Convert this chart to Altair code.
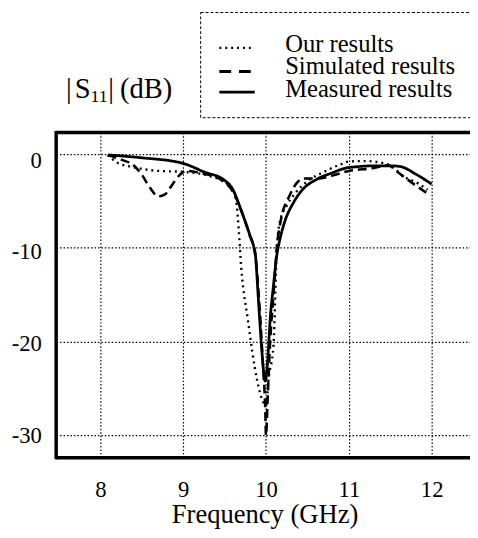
import altair as alt
import pandas as pd

# ---- data ----
freq_ticks = [8, 9, 10, 11, 12]
db_ticks = [0, -10, -20, -30]
series_names = ["Our results", "Simulated results", "Measured results"]

our_f = [8.09, 8.2, 8.4, 8.7, 9.0, 9.3, 9.5, 9.6, 9.64, 9.67, 9.7, 9.78, 9.89, 9.97, 10.0,
         10.03, 10.09, 10.13, 10.17, 10.25, 10.35, 10.5, 10.7, 10.9, 11.0, 11.2, 11.43,
         11.55, 11.63, 11.83, 11.95]
our_db = [-0.1, -0.9, -1.4, -1.8, -1.9, -2.3, -3.0, -3.8, -5.0, -8.0, -12.0, -17.6, -24.0,
          -26.5, -26.8, -24.0, -20.4, -10.2, -7.1, -5.5, -4.2, -2.9, -1.9, -1.1, -0.8,
          -0.75, -1.0, -1.5, -2.2, -3.1, -3.8]

sim_f = [8.09, 8.25, 8.4, 8.5, 8.6, 8.7, 8.78, 8.85, 8.95, 9.03, 9.2, 9.5, 9.6, 9.7, 9.8,
         9.87, 9.92, 9.96, 9.99, 10.0, 10.02, 10.05, 10.09, 10.13, 10.18, 10.28, 10.38,
         10.45, 10.65, 10.8, 11.0, 11.3, 11.47, 11.6, 11.8, 11.95]
sim_db = [-0.1, -0.6, -1.2, -2.2, -3.6, -4.5, -4.3, -3.5, -2.3, -1.8, -2.0, -3.0, -4.0,
          -6.0, -8.6, -10.8, -16.0, -22.0, -27.0, -30.0, -26.0, -20.0, -15.0, -10.0, -7.0,
          -4.5, -3.0, -2.6, -2.6, -2.3, -1.8, -1.5, -1.2, -2.0, -3.3, -4.2]

meas_f = [8.09, 8.5, 9.0, 9.25, 9.5, 9.6, 9.7, 9.8, 9.85, 9.87, 9.91, 9.95, 9.99, 10.02,
          10.05, 10.09, 10.13, 10.17, 10.23, 10.33, 10.44, 10.6, 10.8, 10.96, 11.1, 11.31,
          11.5, 11.63, 11.8, 12.0]
meas_db = [-0.1, -0.4, -1.0, -1.9, -2.8, -3.8, -6.0, -8.5, -9.8, -10.6, -15.8, -21.0,
           -24.2, -22.0, -17.6, -14.0, -10.8, -9.0, -7.1, -5.2, -3.8, -2.75, -2.0, -1.5,
           -1.35, -1.25, -1.25, -1.35, -2.1, -3.2]

df = pd.concat([
    pd.DataFrame({"f": our_f, "db": our_db, "series": series_names[0]}),
    pd.DataFrame({"f": sim_f, "db": sim_db, "series": series_names[1]}),
    pd.DataFrame({"f": meas_f, "db": meas_db, "series": series_names[2]}),
], ignore_index=True)

FONT = "Liberation Serif, Times New Roman, Times, serif"
W, H = 421, 331

xs = alt.Scale(domain=[7.466, 12.463], nice=False, zero=False)
ys = alt.Scale(domain=[-32.36, 2.30], nice=False, zero=False)

y_label_offset = {
    "condition": [
        {"test": "datum.value == 0", "value": 7},
        {"test": "datum.value == -10", "value": 4},
        {"test": "datum.value == -20", "value": 2},
    ],
    "value": 0,
}

lines = alt.Chart(df).mark_line(color="black", clip=True, interpolate="monotone").encode(
    x=alt.X("f:Q", scale=xs, axis=alt.Axis(
        values=freq_ticks, title="Frequency (GHz)", grid=True, domain=False, ticks=False,
        tickSize=0, labelPadding=21, labelFontSize=23, labelFont=FONT, labelColor="black",
        labelFlush=False, titleFont=FONT, titleFontSize=27, titleFontWeight="normal",
        titleColor="black", titlePadding=1, titleX=212,
        gridColor="black", gridDash=[1.5, 2], gridWidth=1.2, gridOpacity=1)),
    y=alt.Y("db:Q", scale=ys, axis=alt.Axis(
        values=db_ticks, title=None, grid=True, domain=False, ticks=False, tickSize=0,
        labelPadding=15, labelFontSize=23, labelFont=FONT, labelColor="black",
        labelFlush=False, labelBaseline="middle", labelExpr="toString(datum.value)",
        labelOffset=y_label_offset,
        gridColor="black", gridDash=[1.5, 2], gridWidth=1.2, gridOpacity=1)),
    strokeDash=alt.StrokeDash("series:N", scale=alt.Scale(
        domain=series_names, range=[[2, 4], [9, 5], [1, 0]]), legend=None),
    strokeWidth=alt.StrokeWidth("series:N", scale=alt.Scale(
        domain=series_names, range=[2.4, 2.8, 2.6]), legend=None),
    order="f:Q",
    detail="series:N",
)

one = pd.DataFrame({"k": [0]})
frame_left = alt.Chart(one).mark_rule(color="black", strokeWidth=3.5).encode(
    x=alt.value(0), y=alt.value(-1.5), y2=alt.value(H + 1.5))
frame_top = alt.Chart(one).mark_rule(color="black", strokeWidth=3.5).encode(
    x=alt.value(0), x2=alt.value(W + 5), y=alt.value(0))
frame_bot = alt.Chart(one).mark_rule(color="black", strokeWidth=3.5).encode(
    x=alt.value(0), x2=alt.value(W + 5), y=alt.value(H))

# legend box
leg_box = alt.Chart(one).mark_rect(fill=None, stroke="black", strokeWidth=1,
                                   strokeDash=[3, 2]).encode(
    x=alt.value(147), x2=alt.value(W + 30), y=alt.value(-122), y2=alt.value(-15))

leg_rows = pd.DataFrame({"series": series_names, "ly": [-86, -62, -41],
                         "ty": [-82, -59, -36]})
leg_samples = []
dashes = [[2, 4], [12, 8], [1, 0]]
widths = [2.4, 3, 3]
for i, s in enumerate(series_names):
    leg_samples.append(alt.Chart(leg_rows.iloc[[i]]).mark_rule(
        color="black", strokeDash=dashes[i], strokeWidth=widths[i]).encode(
        x=alt.value(166), x2=alt.value(202), y=alt.value(leg_rows["ly"][i])))
leg_texts = []
for i, s in enumerate(series_names):
    leg_texts.append(alt.Chart(leg_rows.iloc[[i]]).mark_text(
        font=FONT, fontSize=25, align="left", baseline="alphabetic", color="black").encode(
        x=alt.value(233), y=alt.value(leg_rows["ty"][i]), text="series:N"))

# |S11| (dB) label
lab_parts = [("|", 10, -35, 29), ("S", 19, -35, 29), ("11", 35, -31, 18),
             ("|", 53, -35, 29), ("(dB)", 65, -35, 29)]
lab_layers = []
for t, lx, ly, fs in lab_parts:
    lab_layers.append(alt.Chart(pd.DataFrame({"t": [t]})).mark_text(
        font=FONT, fontSize=fs, align="left", baseline="alphabetic", color="black").encode(
        x=alt.value(lx), y=alt.value(ly), text="t:N"))

chart = alt.layer(
    lines, frame_left, frame_top, frame_bot, leg_box, *leg_samples, *leg_texts, *lab_layers
).properties(
    width=W, height=H,
    autosize=alt.AutoSizeParams(type="none"),
    padding={"left": 49, "top": 122, "right": 0, "bottom": 77},
).configure_view(stroke=None)

chart.save("out.html", embed_options={"renderer": "svg", "actions": False})
